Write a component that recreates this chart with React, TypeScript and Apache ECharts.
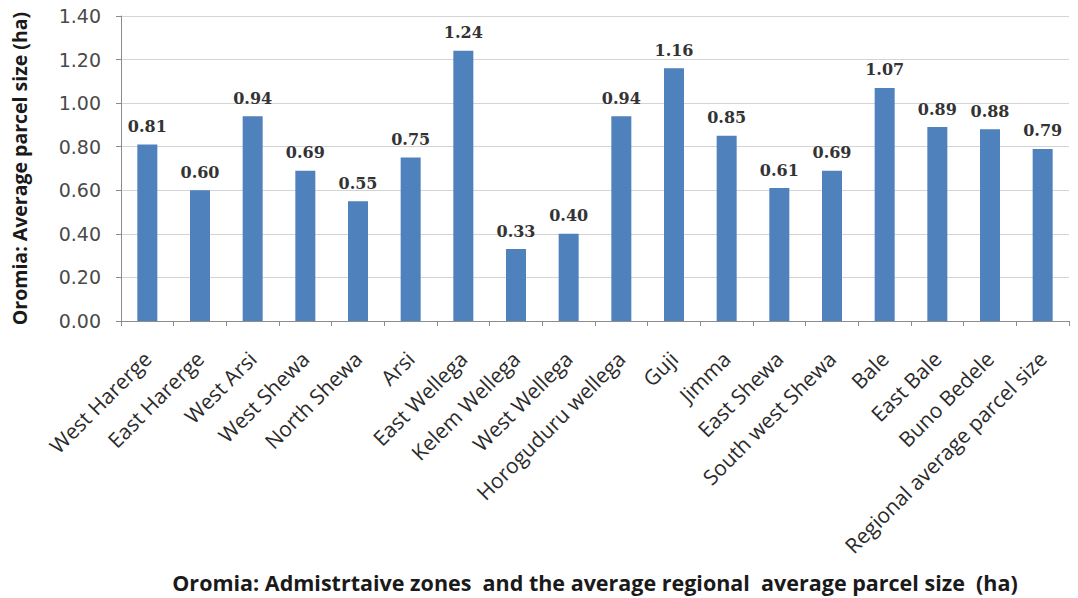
import React, { useEffect, useRef } from "react";
import * as echarts from "echarts";

const zones = [
  "West Harerge",
  "East Harerge",
  "West Arsi",
  "West Shewa",
  "North Shewa",
  "Arsi",
  "East Wellega",
  "Kelem Wellega",
  "West Wellega",
  "Horoguduru wellega",
  "Guji",
  "Jimma",
  "East Shewa",
  "South west Shewa",
  "Bale",
  "East Bale",
  "Buno Bedele",
  "Regional average parcel size",
];

const parcelSize = [
  0.81, 0.6, 0.94, 0.69, 0.55, 0.75, 1.24, 0.33, 0.4, 0.94, 1.16, 0.85, 0.61,
  0.69, 1.07, 0.89, 0.88, 0.79,
];

const yTicks = [0, 0.2, 0.4, 0.6, 0.8, 1.0, 1.2, 1.4];

const yTitle = "Oromia: Average parcel size (ha)";
const xTitle =
  "Oromia: Admistrtaive zones  and the average regional  average parcel size  (ha)";

export default function App() {
  const ref = useRef<HTMLDivElement>(null);

  useEffect(() => {
    if (!ref.current) return;
    const chart = echarts.init(ref.current, undefined, { renderer: "svg" });
    chart.setOption({
      animation: false,
      backgroundColor: "#ffffff",
      grid: { left: 121, right: 9, top: 16, bottom: 273 },
      xAxis: {
        type: "category",
        data: zones,
        name: xTitle,
        nameLocation: "middle",
        nameGap: 250,
        nameTextStyle: {
          fontFamily: "Open Sans",
          fontWeight: "bold",
          fontSize: 21.5,
          color: "#1a1a1a",
        },
        axisLine: { lineStyle: { color: "#8c8c8c", width: 1 } },
        axisTick: { show: true, length: 5, lineStyle: { color: "#8c8c8c" } },
        axisLabel: {
          rotate: 45,
          interval: 0,
          margin: 34,
          fontFamily: "Open Sans",
          fontSize: 21,
          color: "#2b2b2b",
        },
      },
      yAxis: {
        type: "value",
        min: yTicks[0],
        max: yTicks[yTicks.length - 1],
        interval: 0.2,
        name: yTitle,
        nameLocation: "middle",
        nameGap: 92,
        nameTextStyle: {
          fontFamily: "Open Sans",
          fontWeight: "bold",
          fontSize: 19.5,
          color: "#1a1a1a",
        },
        axisLine: { show: true, lineStyle: { color: "#8c8c8c", width: 1 } },
        axisTick: { show: true, length: 5, lineStyle: { color: "#8c8c8c" } },
        axisLabel: {
          formatter: (v: number) => v.toFixed(2),
          fontFamily: "DejaVu Sans",
          fontSize: 19,
          color: "#4a4a4a",
          margin: 20,
        },
        splitLine: { show: true, lineStyle: { color: "#d4d4d4", width: 1 } },
      },
      series: [
        {
          type: "bar",
          data: parcelSize,
          barWidth: 20,
          itemStyle: { color: "#4f81bd" },
          label: {
            show: true,
            position: "top",
            distance: 10,
            formatter: (p: any) => Number(p.value).toFixed(2),
            fontFamily: "DejaVu Serif",
            fontWeight: "bold",
            fontSize: 16,
            color: "#333333",
          },
        },
      ],
    });
    return () => chart.dispose();
  }, []);

  return (
    <div
      ref={ref}
      style={{ position: "fixed", left: 0, top: 0, width: 1078, height: 598 }}
    />
  );
}
